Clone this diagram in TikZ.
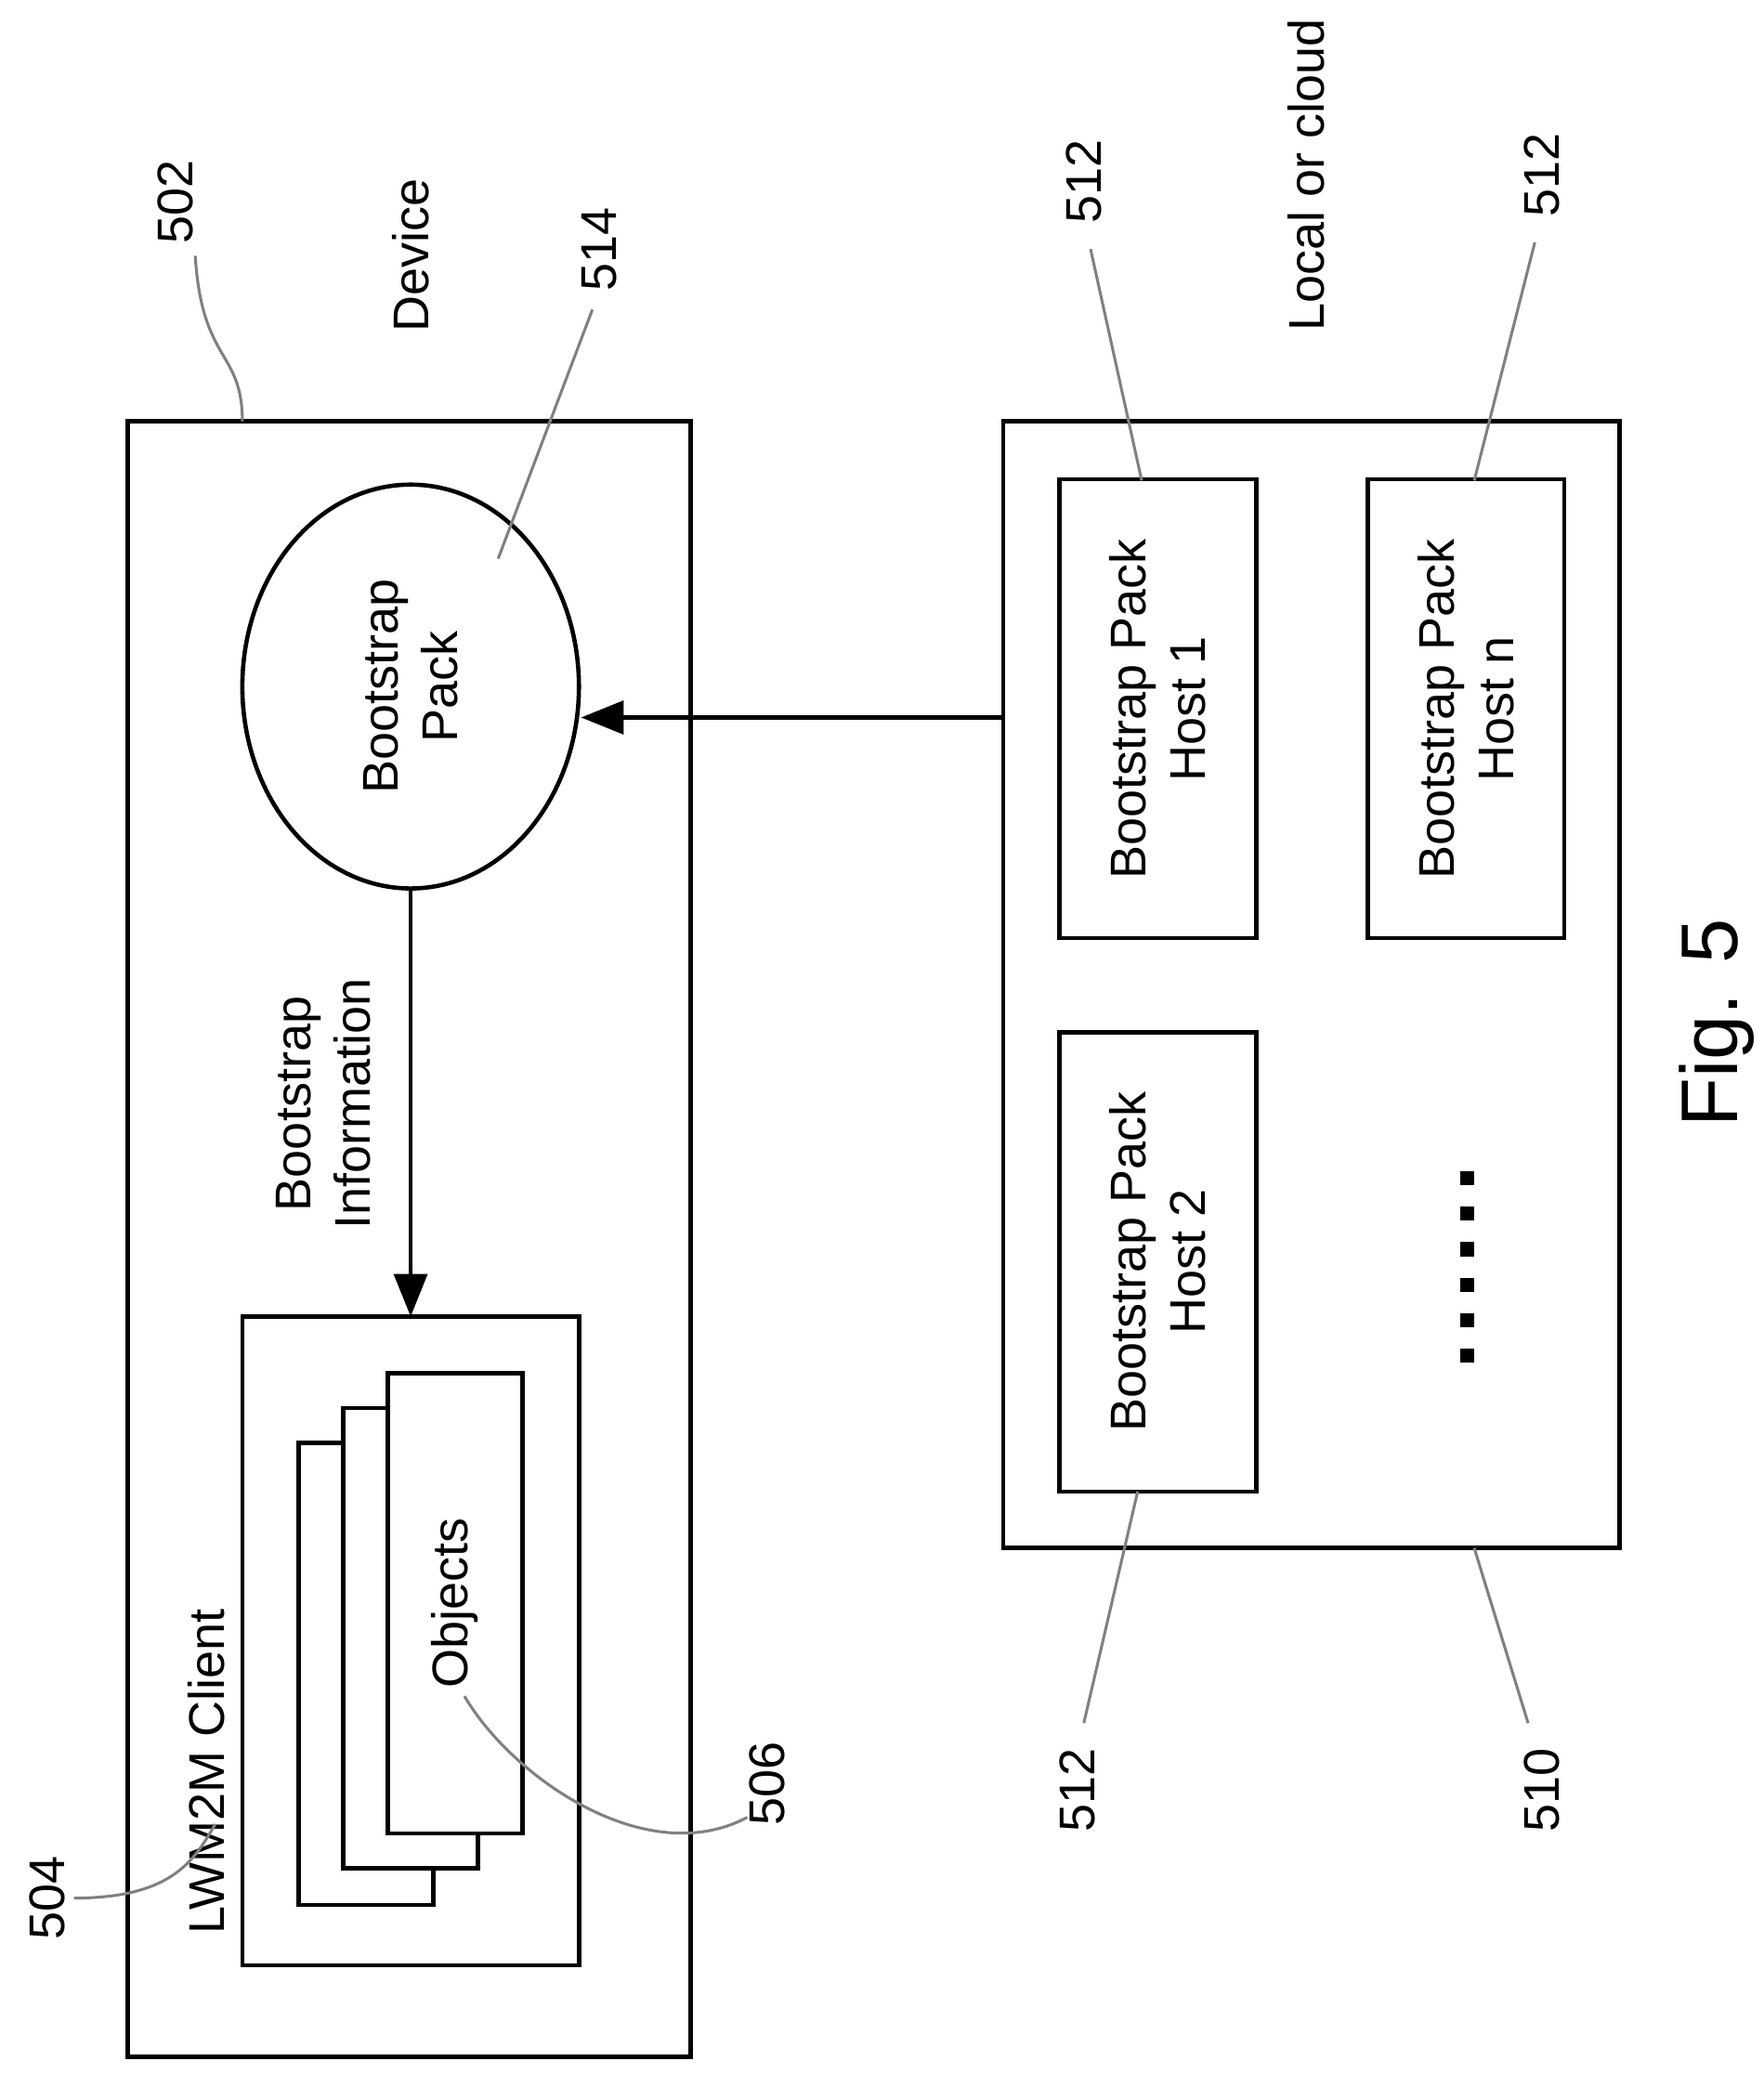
\documentclass[tikz,border=0pt]{standalone}
\usepackage{fontspec}
\setmainfont{Liberation Sans}
\usetikzlibrary{arrows.meta,shapes.geometric}
\begin{document}
\begin{tikzpicture}[x=1cm,y=-1cm,line width=0.9pt,
    box/.style={draw,rectangle},
    page/.style={draw,fill=white},
    lbl/.style={rotate=90,font=\fontsize{10.6}{12.5}\selectfont,align=center},
    refnum/.style={rotate=90,font=\fontsize{10.6}{12.5}\selectfont},
    lead/.style={draw,gray,line width=0.6pt},
    arr/.style={-{Triangle[length=9pt,width=7pt]}}]
  \useasboundingbox (0,0) rectangle (13.10,15.60);

  % device side
  \draw (0.95,3.13) rectangle (5.13,15.28);
  \node[ellipse,draw,minimum width=2.5cm,minimum height=3.0cm] (pack) at (3.05,5.10) {};
  \node[lbl] at (pack) {Bootstrap\\Pack};
  \draw (1.80,9.78) rectangle (4.30,14.60);
  \coordinate (clienttop) at (3.05,9.78);
  \node[lbl,anchor=south west] at (1.80,14.50) {LWM2M Client};
  \draw[page] (2.22,10.72) rectangle (3.22,14.15);
  \draw[page] (2.55,10.46) rectangle (3.55,13.88);
  \draw[page] (2.88,10.20) rectangle (3.88,13.62);
  \node[lbl] (objects) at (3.38,11.91) {Objects};
  \draw[arr] (pack.south) -- (clienttop);
  \node[lbl] at (2.40,8.20) {Bootstrap\\Information};
  \node[lbl] at (3.05,1.90) {Device};

  % local or cloud side
  \draw (7.45,3.13) rectangle (12.03,11.50);
  \coordinate (cloudleft) at (7.45,5.33);
  \node[box,minimum width=3.41cm,minimum height=1.46cm,rotate=90] (host1) at (8.60,5.265) {};
  \node[lbl] at (host1) {Bootstrap Pack\\Host 1};
  \node[box,minimum width=3.41cm,minimum height=1.46cm,rotate=90] (hostn) at (10.89,5.265) {};
  \node[lbl] at (hostn) {Bootstrap Pack\\Host n};
  \node[box,minimum width=3.41cm,minimum height=1.46cm,rotate=90] (host2) at (8.60,9.375) {};
  \node[lbl] at (host2) {Bootstrap Pack\\Host 2};
  \draw[line width=3pt,dash pattern=on 3pt off 4.5pt] (10.90,8.70) -- (10.90,10.15);
  \draw[arr] (cloudleft) -- (pack.east |- cloudleft);
  \node[lbl] at (9.70,1.30) {Local or cloud};
  \node[rotate=90,font=\fontsize{17}{20}\selectfont] at (12.75,7.60) {Fig. 5};

  % reference numerals
  \node[refnum] (n502) at (1.30,1.50) {502};
  \draw[lead] (1.45,1.90) .. controls (1.5,2.7) and (1.8,2.6) .. (1.80,3.13);
  \node[refnum] (n514) at (4.45,1.85) {514};
  \draw[lead] (4.40,2.30) -- (3.70,4.15);
  \node[refnum] (n512a) at (8.05,1.35) {512};
  \draw[lead] (8.10,1.85) -- (8.48,3.57);
  \node[refnum] (n512b) at (11.45,1.30) {512};
  \draw[lead] (11.40,1.80) -- (10.95,3.57);
  \node[refnum] (n512c) at (8.00,13.30) {512};
  \draw[lead] (8.05,12.80) -- (8.45,11.08);
  \node[refnum] (n510) at (11.45,13.30) {510};
  \draw[lead] (11.35,12.80) -- (10.95,11.50);
  \node[refnum] (n504) at (0.35,14.10) {504};
  \draw[lead] (0.55,14.10) .. controls (1.3,14.10) and (1.45,13.80) .. (1.60,13.55);
  \node[refnum] (n506) at (5.70,13.25) {506};
  \draw[lead] (5.55,13.50) .. controls (4.8,13.9) and (3.8,13.2) .. (3.45,12.60);
\end{tikzpicture}
\end{document}
